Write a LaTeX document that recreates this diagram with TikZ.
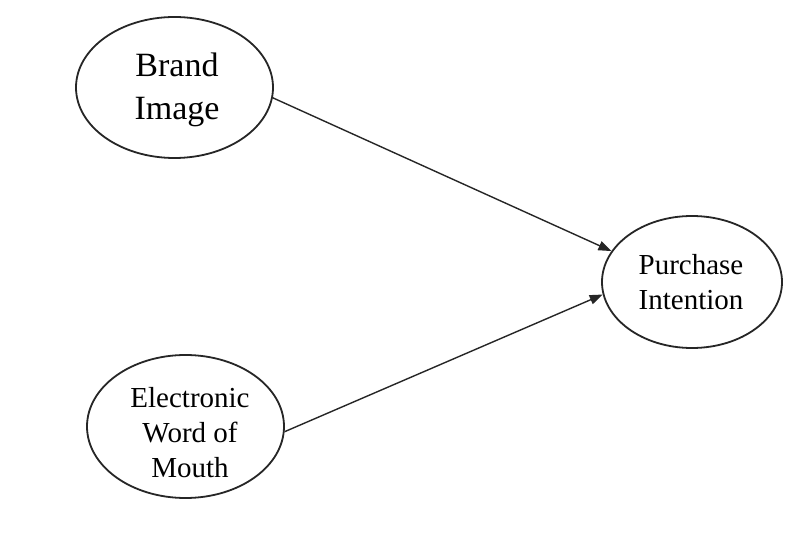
\documentclass[tikz,border=0pt]{standalone}
\usepackage{fontspec}
\setmainfont{Liberation Serif}
\usetikzlibrary{shapes.geometric,arrows.meta}
\begin{document}
\begin{tikzpicture}[x=1pt,y=-1pt,
  construct/.style={draw=black!85, line width=1.8pt, ellipse, inner sep=0pt},
  caption/.style={align=center, inner sep=0pt, text=black},
  effect/.style={draw=black!85, line width=1.4pt, -{Triangle[length=13pt,width=9.5pt]}}]
\useasboundingbox[fill=white] (0,0) rectangle (806,534);

% constructs
\node[construct, minimum width=197pt, minimum height=141pt] (bi) at (174.5,87.5) {};
\node[caption, font=\fontsize{34}{43}\selectfont] (bit) at (177,90) {Brand\\Image};

\node[construct, minimum width=180pt, minimum height=132pt] (pi) at (692,282) {};
\node[caption, font=\fontsize{29}{35}\selectfont] (pit) at (691,282) {Purchase\\Intention};

\node[construct, minimum width=197pt, minimum height=143pt] (ew) at (185.5,426.5) {};
\node[caption, font=\fontsize{29}{35}\selectfont] (ewt) at (190,433) {Electronic\\Word of\\Mouth};

% hypothesised effects
\draw[effect] (bi.-6) -- (pi.159);
\draw[effect] (ew.-3) -- (pi.188);
\end{tikzpicture}
\end{document}
